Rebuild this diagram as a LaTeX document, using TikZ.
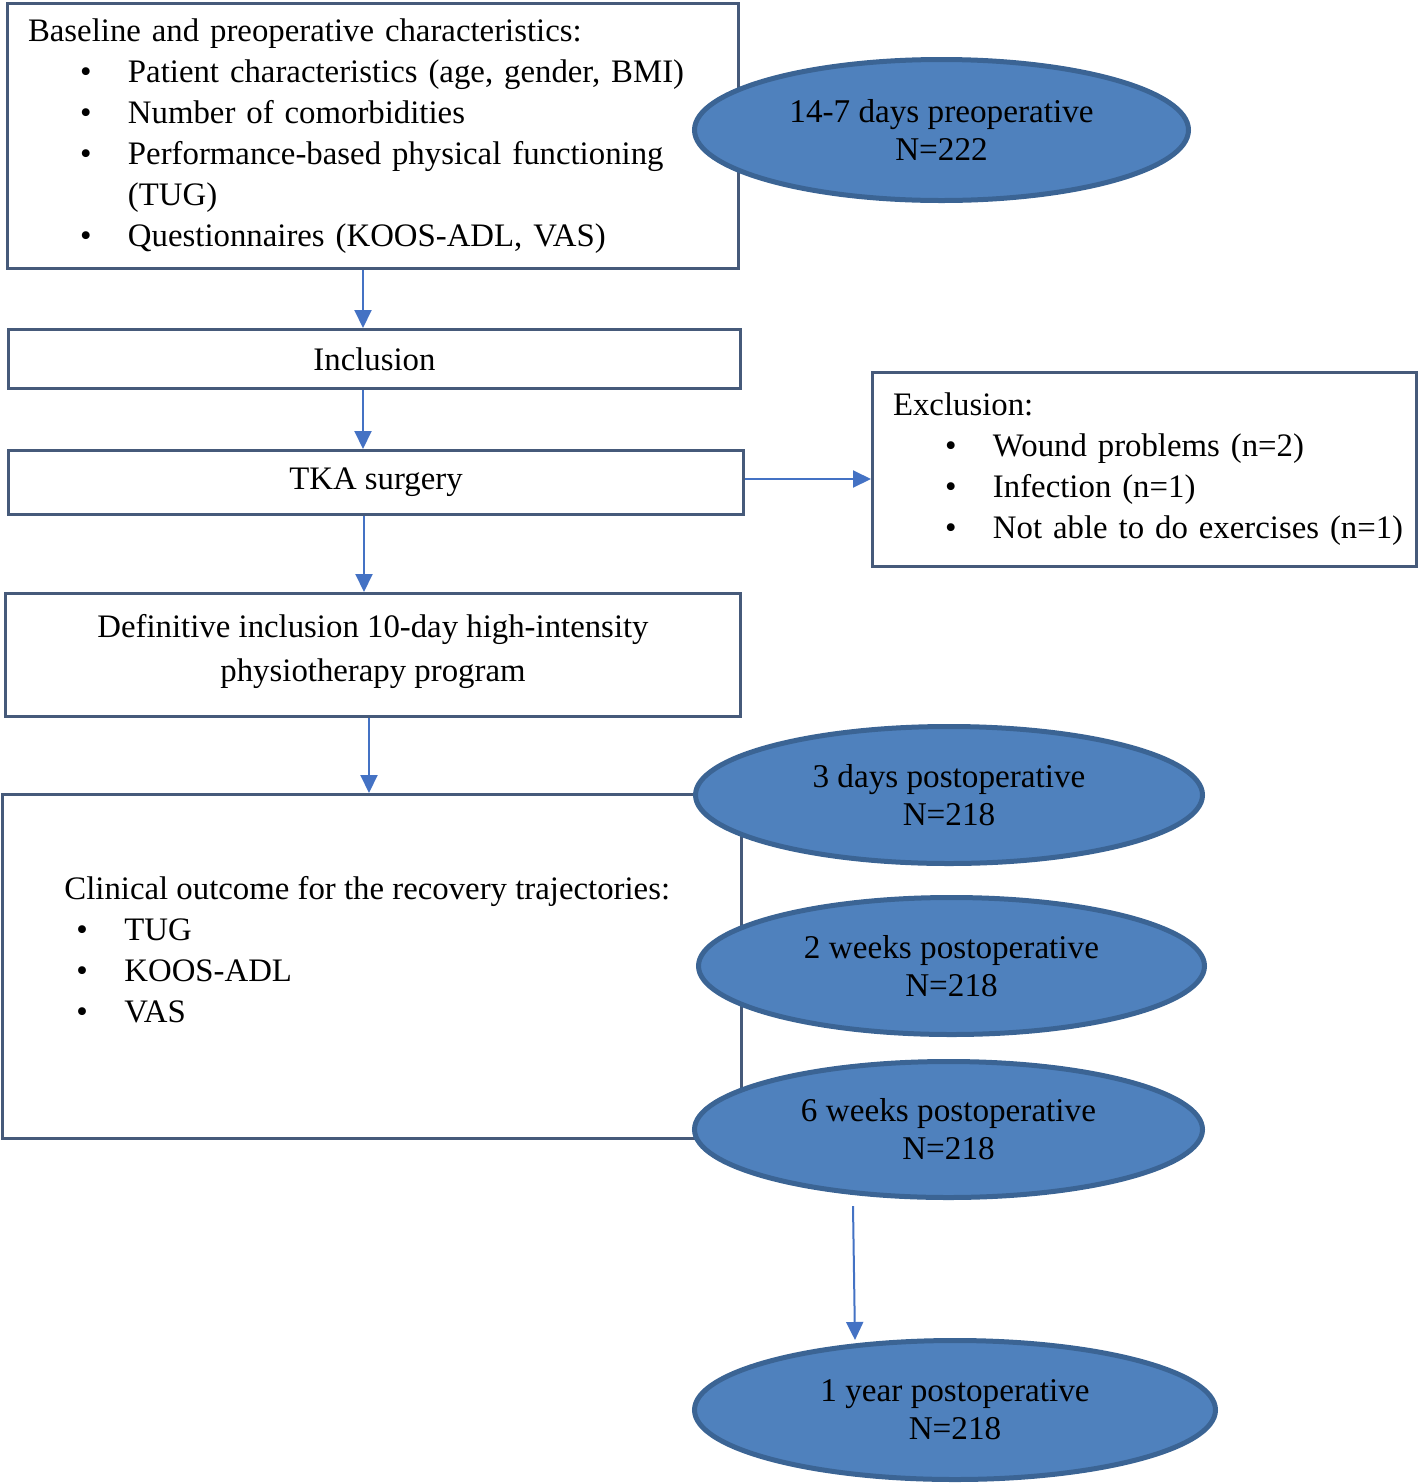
\documentclass[tikz,border=0pt]{standalone}
\usepackage{fontspec}
\setmainfont{Liberation Serif}
\usetikzlibrary{arrows.meta,shapes.geometric}
\definecolor{boxline}{HTML}{465A7A}
\definecolor{ovalfill}{HTML}{4F81BD}
\definecolor{ovalline}{HTML}{3B6494}
\definecolor{arrowblue}{HTML}{4472C4}
\newcommand{\bulletline}[2][26pt]{\hspace*{#1}\makebox[24pt][l]{\textbullet}\mbox{#2}}

\begin{document}
\begin{tikzpicture}[x=0.5pt,y=-0.5pt]
\tikzstyle{stepbox}=[draw=boxline, line width=1.5pt, inner sep=0pt, font=\fontsize{16.4}{20.5}\selectfont]
\tikzstyle{oval}=[ellipse, draw=ovalline, fill=ovalfill, line width=2.5pt, inner sep=0pt, align=center, font=\fontsize{16.6}{19}\selectfont]
\tikzstyle{arr}=[draw=arrowblue, line width=1pt, -{Triangle[width=8.5pt,length=9pt]}]
\useasboundingbox (0,0) rectangle (1420,1484);

\node[stepbox, minimum width=365.5pt, minimum height=132.5pt, text width=345pt, align=left] (base) at (373,136)
  {Baseline and preoperative characteristics:\\
   \bulletline{Patient characteristics (age, gender, BMI)}\\
   \bulletline{Number of comorbidities}\\
   \bulletline{Performance-based physical functioning}\\
   \hspace*{50pt}(TUG)\\
   \bulletline{Questionnaires (KOOS-ADL, VAS)}};
\node[stepbox, minimum width=366pt, minimum height=29.5pt] (incl) at (374.5,359) {Inclusion};
\node[stepbox, minimum width=367.5pt, minimum height=32pt] (tka) at (376,482.5) {TKA surgery};
\node[stepbox, minimum width=272pt, minimum height=97pt, text width=251.5pt, align=left] (excl) at (1144.5,469.5)
  {Exclusion:\\
   \bulletline{Wound problems (n=2)}\\
   \bulletline{Infection (n=1)}\\
   \bulletline{Not able to do exercises (n=1)}};
\node[stepbox, minimum width=367.5pt, minimum height=61.5pt, align=center, text depth=7pt] (defin) at (373,655)
  {Definitive inclusion 10-day high-intensity\\[1.5pt] physiotherapy program};
\node[stepbox, minimum width=369.5pt, minimum height=172pt] (clin) at (372,966.5) {};
\node[anchor=west, inner sep=0pt, align=left, font=\fontsize{16.4}{20.5}\selectfont] (clintext) at (64,949.5)
  {Clinical outcome for the recovery trajectories:\\
   \bulletline[6pt]{TUG}\\
   \bulletline[6pt]{KOOS-ADL}\\
   \bulletline[6pt]{VAS}};

\node[oval, minimum width=247pt, minimum height=70.5pt] (pre) at (941.5,130) {14-7 days preoperative\\N=222};
\node[oval, minimum width=253.5pt, minimum height=68.5pt] (d3) at (949,795) {3 days postoperative\\N=218};
\node[oval, minimum width=253pt, minimum height=68.5pt] (w2) at (951.5,966) {2 weeks postoperative\\N=218};
\node[oval, minimum width=254pt, minimum height=68pt] (w6) at (948.5,1129.5) {6 weeks postoperative\\N=218};
\node[oval, minimum width=260.5pt, minimum height=69.5pt] (y1) at (955,1410) {1 year postoperative\\N=218};

\path
([xshift=-5pt]base.south) edge[arr] ([xshift=-5pt]base.south |- incl.north)
([xshift=-5.75pt]incl.south) edge[arr] ([xshift=-5.75pt]incl.south |- tka.north)
([yshift=1.75pt]tka.east) edge[arr] ([yshift=1.75pt]tka.east -| excl.west)
([xshift=-6pt]tka.south) edge[arr] ([xshift=-6pt]tka.south |- defin.north)
([xshift=-2pt]defin.south) edge[arr] ([xshift=-2pt]defin.south |- clin.north)
([xshift=-47.75pt,yshift=-3pt]w6.south) edge[arr] ([xshift=-50pt,yshift=-1pt]y1.north);

\end{tikzpicture}
\end{document}
